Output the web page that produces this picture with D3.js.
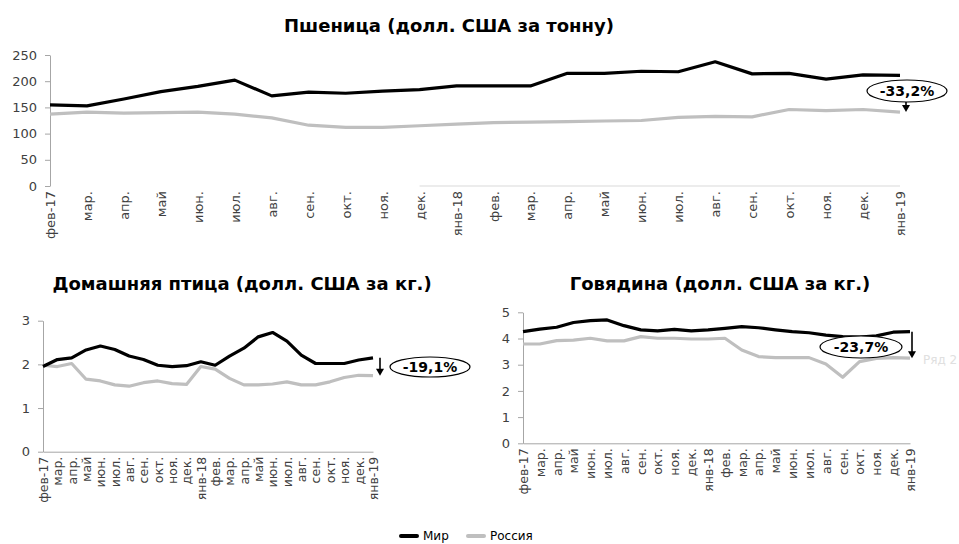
<!DOCTYPE html>
<html><head><meta charset="utf-8">
<script src="https://cdn.jsdelivr.net/npm/d3@7"></script>
<style>
body{margin:0;background:#fff;}
svg{display:block;font-family:"DejaVu Sans",Verdana,sans-serif;}
</style></head>
<body><svg id="c" width="959" height="544"></svg>
<script>
const months = ["фев-17","мар.","апр.","май","июн.","июл.","авг.","сен.","окт.","ноя.","дек.","янв-18",
                "фев.","мар.","апр.","май","июн.","июл.","авг.","сен.","окт.","ноя.","дек.","янв-19"];
const wheatWorld  = [155,153,166,180,190,202,172,179,177,181,184,191,191,191,215,215,219,218,237,214,215,204,212,211];
const wheatRussia = [137,141,139,140,141,137,130,116,112,112,115,118,121,122,123,124,125,131,133,132,146,144,146,141];
const poultryWorld  = [1.95,2.11,2.15,2.33,2.42,2.34,2.19,2.11,1.98,1.95,1.97,2.06,1.98,2.19,2.37,2.63,2.73,2.53,2.21,2.02,2.02,2.02,2.10,2.15];
const poultryRussia = [1.98,1.95,2.02,1.66,1.62,1.53,1.50,1.58,1.62,1.56,1.54,1.95,1.89,1.68,1.53,1.53,1.55,1.60,1.53,1.53,1.60,1.70,1.75,1.74];
const beefWorld  = [4.26,4.36,4.43,4.61,4.68,4.71,4.49,4.33,4.29,4.35,4.29,4.33,4.39,4.45,4.41,4.33,4.26,4.22,4.13,4.07,4.05,4.10,4.24,4.26];
const beefRussia = [3.79,3.79,3.92,3.94,4.01,3.91,3.91,4.07,4.01,4.01,3.98,3.98,4.01,3.56,3.31,3.27,3.27,3.27,3.03,2.52,3.12,3.24,3.27,3.25];
const wheatTicks = [0,50,100,150,200,250];
const poultryTicks = [0,1,2,3];
const beefTicks = [0,1,2,3,4,5];
const seriesNames = ["Мир","Россия"];
const seriesColors = ["#000000","#bfbfbf"];

const svg = d3.select("#c");
const axisColor = "#a6a6a6";
const textColor = "#404040";

function panel(o){
  const x = d3.scalePoint().domain(d3.range(months.length)).range([o.x0,o.x1]);
  const y = d3.scaleLinear().domain([0,o.ymax]).range([o.y0,o.y1]);
  const g = svg.append("g");
  g.append("text").attr("x",o.tx).attr("y",o.ty).attr("text-anchor","middle")
    .attr("font-weight","bold").attr("font-size",o.tfs).attr("fill","#000").text(o.title);
  const ya = g.append("g").attr("transform",`translate(${o.x0},0)`)
    .call(d3.axisLeft(y).tickValues(o.ticks).tickSize(5).tickSizeOuter(0).tickPadding(8).tickFormat(d3.format("d")));
  ya.select(".domain").attr("stroke",axisColor);
  ya.selectAll(".tick line").attr("stroke",axisColor);
  ya.selectAll(".tick text").attr("font-size",o.yfs).attr("fill",textColor).attr("font-family","DejaVu Sans, sans-serif");
  const xa = g.append("g").attr("transform",`translate(0,${o.y0})`)
    .call(d3.axisBottom(x).tickSize(0).tickSizeOuter(0).tickPadding(4).tickFormat(i=>months[i]));
  xa.select(".domain").attr("stroke",axisColor);
  if(o.axisStart!=null){
    xa.select(".domain").remove();
    xa.append("line").attr("x1",x(o.axisStart)).attr("x2",o.x1).attr("y1",0).attr("y2",0).attr("stroke","#d9d9d9");
  }
  xa.selectAll(".tick text").attr("font-size",o.xfs).attr("fill",textColor)
    .attr("font-family","DejaVu Sans, sans-serif")
    .attr("transform","rotate(-90)").attr("text-anchor","end")
    .attr("dy","0.35em").attr("x",-5).attr("y",0);
  const line = d3.line().x((d,i)=>x(i)).y(d=>y(d)).curve(d3.curveLinear);
  [o.russia,o.world].forEach((s,k)=>{
    g.append("path").datum(s).attr("d",line).attr("fill","none")
      .attr("stroke",k===0?seriesColors[1]:seriesColors[0]).attr("stroke-width",3.2)
      .attr("stroke-linejoin","round");
  });
  const last = months.length-1;
  const ax = x(last)+o.arrowDx;
  const a0 = o.arrowFrom!=null?o.arrowFrom:y(o.world[last]);
  const a1 = y(o.russia[last]);
  g.append("line").attr("x1",ax).attr("x2",ax).attr("y1",a0).attr("y2",a1-6)
    .attr("stroke","#000").attr("stroke-width",1.6);
  g.append("path").attr("d",`M${ax-4},${a1-7}L${ax+4},${a1-7}L${ax},${a1}Z`).attr("fill","#000");
  g.append("ellipse").attr("cx",o.ex).attr("cy",o.ey).attr("rx",o.erx).attr("ry",o.ery)
    .attr("fill","#fff").attr("stroke","#000").attr("stroke-width",1.2);
  g.append("text").attr("x",o.ex).attr("y",o.ey).attr("dy","0.36em").attr("text-anchor","middle")
    .attr("font-weight","bold").attr("font-size",14).attr("fill","#000").text(o.pct);
  return {x,y,g};
}

panel({title:"Пшеница (долл. США за тонну)",tx:449,ty:32,tfs:18,
  x0:50,x1:900,y0:186,y1:55,ymax:250,ticks:wheatTicks,world:wheatWorld,russia:wheatRussia,
  yfs:13,xfs:13,axisStart:10,arrowDx:6,arrowFrom:101,ex:907,ey:91,erx:40,ery:11,pct:"-33,2%"});

panel({title:"Домашняя птица (долл. США за кг.)",tx:242,ty:290,tfs:18,
  x0:43,x1:373,y0:451.7,y1:320.7,ymax:3,ticks:poultryTicks,world:poultryWorld,russia:poultryRussia,
  yfs:13,xfs:12.5,arrowDx:7,ex:430,ey:367,erx:40,ery:10,pct:"-19,1%"});

panel({title:"Говядина (долл. США за кг.)",tx:720,ty:290,tfs:18,
  x0:523,x1:910,y0:443.3,y1:312.3,ymax:5,ticks:beefTicks,world:beefWorld,russia:beefRussia,
  yfs:13,xfs:12.5,arrowDx:2,ex:861,ey:347,erx:41,ery:11,pct:"-23,7%"});
svg.append("text").attr("x",923).attr("y",364).attr("font-size",12).attr("fill","#e0e0e0").text("Ряд 2");

const lg = svg.append("g").attr("transform","translate(401,536)");
seriesNames.forEach((n,i)=>{
  const ox = i===0?0:67;
  lg.append("line").attr("x1",ox).attr("x2",ox+16).attr("y1",0).attr("y2",0)
    .attr("stroke",seriesColors[i]).attr("stroke-width",4).attr("stroke-linecap","round");
  lg.append("text").attr("x",ox+22).attr("y",0).attr("dy","0.35em").attr("font-size",12)
    .attr("fill","#000").text(n);
});
</script></body></html>
